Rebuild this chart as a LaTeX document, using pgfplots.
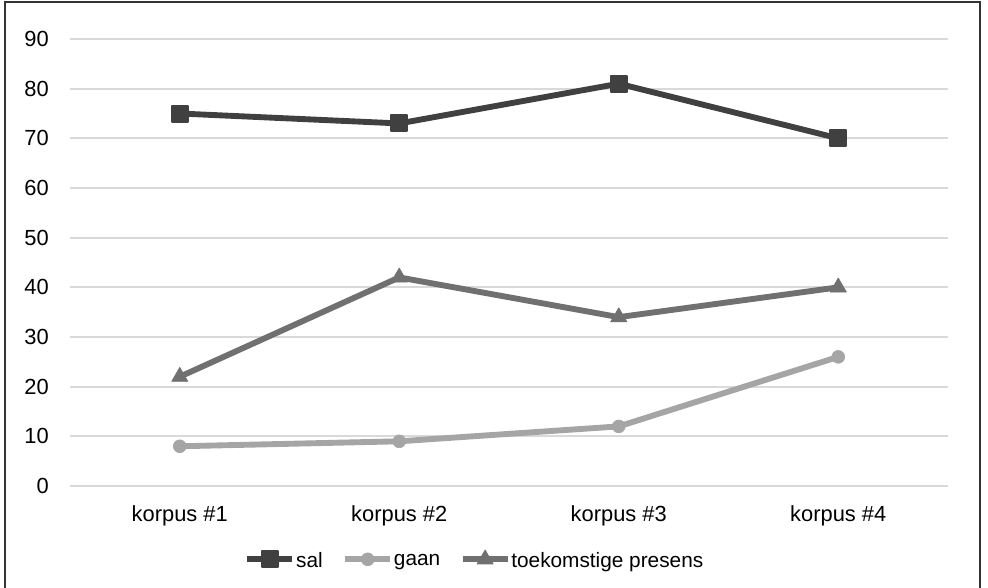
\documentclass[border=0pt]{standalone}
\usepackage{pgfplots}
\pgfplotsset{compat=1.18}
\usepackage{fontspec}
\setmainfont{Liberation Sans}

\definecolor{salc}{HTML}{404040}
\definecolor{gaanc}{HTML}{A5A5A5}
\definecolor{presc}{HTML}{707070}
\definecolor{gridc}{HTML}{D9D9D9}

\begin{document}
\begin{tikzpicture}
\useasboundingbox (-52.5pt,-75.75pt) rectangle (688.5pt,364.5pt);
\begin{axis}[
    at={(0,0)}, anchor=south west,
    scale only axis,
    width=658.5pt, height=335.25pt,
    xmin=-0.5, xmax=3.5,
    ymin=0, ymax=90,
    ytick={0,10,...,90},
    xtick=data,
    xticklabels={korpus \#1, korpus \#2, korpus \#3, korpus \#4},
    major tick length=0pt,
    axis line style={draw=none},
    ymajorgrids,
    grid style={gridc, line width=1.5pt},
    /pgf/number format/assume math mode=true,
    tick label style={font=\fontsize{16.4}{19}\selectfont, text=black},
    yticklabel style={inner sep=0pt, anchor=east, xshift=-15.75pt},
    xticklabel style={inner sep=0pt, anchor=north, yshift=-14.25pt},
    every axis plot/.append style={line width=4.4pt, line join=round},
    legend columns=-1,
    legend style={at={(0.1985,-0.1655)}, anchor=west, draw=none, fill=none,
        inner sep=0pt, font=\fontsize{15.6}{18}\selectfont,
        nodes={inner sep=0.6pt},
        /tikz/every even column/.append style={column sep=14pt}},
    legend image code/.code={\draw[mark repeat=2,mark phase=2,#1]
        plot coordinates {(0pt,1pt) (16.9pt,1pt) (33.75pt,1pt)};},
]
\addplot[salc, mark=square*, mark size=6pt,
    mark options={line width=1.5pt, line join=round}] coordinates {
    (0,75) (1,73) (2,81) (3,70)
};
\addplot[gaanc, mark=*, mark size=4.8pt,
    mark options={line width=0.5pt}] coordinates {
    (0,8) (1,9) (2,12) (3,26)
};
\addplot[presc, mark=triangle*, mark size=7pt,
    mark options={line width=0.5pt}] coordinates {
    (0,22) (1,42) (2,34) (3,40)
};
\legend{sal, gaan, toekomstige presens}
\end{axis}
\draw[black!80, line width=2pt] (-48.75pt,-80pt) -- (-48.75pt,363pt) -- (682.5pt,363pt) -- (682.5pt,-80pt);
\end{tikzpicture}
\end{document}
